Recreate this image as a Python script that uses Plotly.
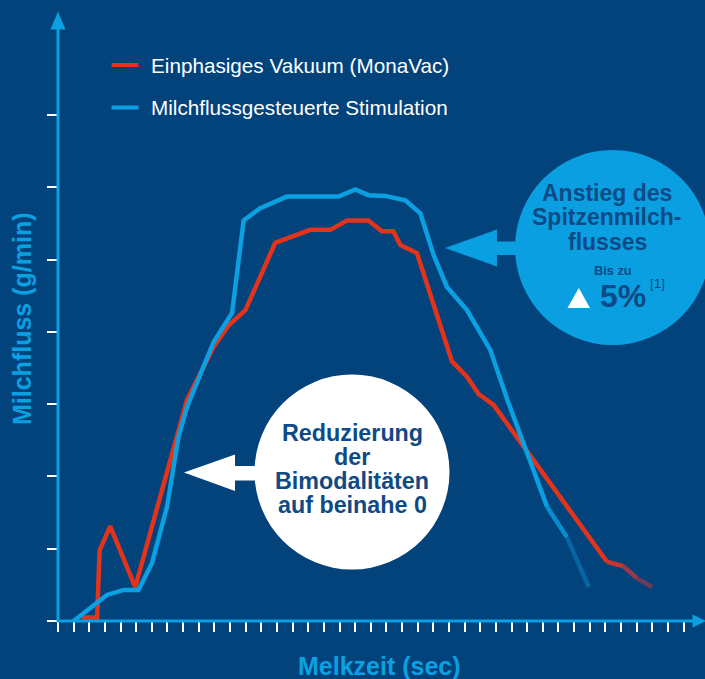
import plotly.graph_objects as go

# ---------------- data ----------------
red_name = "Einphasiges Vakuum (MonaVac)"
blue_name = "Milchflussgesteuerte Stimulation"

red_x = [1.5, 2.5, 2.66, 3.34, 4.94, 8.25, 9.95, 10.91, 11.98, 13.89, 16.13, 17.41,
         18.48, 19.84, 20.72, 21.44, 21.89, 22.95, 25.19, 26.15, 26.89, 27.85, 35.10,
         36.14, 37.02, 37.98]
red_y = [0.05, 0.05, 0.98, 1.31, 0.47, 3.06, 3.79, 4.09, 4.30, 5.23, 5.41, 5.41,
         5.54, 5.54, 5.39, 5.39, 5.20, 5.09, 3.59, 3.38, 3.14, 2.99, 0.82,
         0.76, 0.59, 0.47]

blue_x = [1.0, 3.13, 4.19, 5.15, 6.01, 6.97, 7.71, 8.25, 9.95, 11.13, 11.87, 12.93,
          14.64, 17.94, 19.01, 19.86, 20.93, 22.21, 23.17, 24.02, 24.87, 26.15, 27.64,
          28.73, 31.27, 32.54, 33.93]
blue_y = [0.0, 0.36, 0.43, 0.43, 0.80, 1.58, 2.55, 2.96, 3.86, 4.26, 5.54, 5.71,
          5.87, 5.87, 5.97, 5.89, 5.88, 5.82, 5.64, 5.06, 4.62, 4.30, 3.75,
          3.06, 1.58, 1.16, 0.47]

x_ticks = list(range(0, 41))
y_ticks = list(range(0, 8))

# ---------------- styling ----------------
W, H = 705, 679
L, R, T, B = 58, 0, 12, 58
PX_PER_X = 15.64
PX_PER_Y = 72.3
BG = "#03437b"
LBLUE = "#0aa0e2"
RED = "#e3331b"
NAVY = "#0d4a86"
FONT = "Liberation Sans, Arial, Helvetica, sans-serif"

pw, ph = W - L - R, H - T - B
x_max = pw / PX_PER_X
y_max = ph / PX_PER_Y


def px(xp):
    return (xp - L) / pw


def py(yp):
    return (H - B - yp) / ph


def path(points):
    s = "M " + " L ".join(f"{px(a):.5f},{py(b):.5f}" for a, b in points)
    return s + " Z"


fig = go.Figure()

# red series: main part + fading tail segments
red_fade = ["#c8352f", "#983a48", "#6c3b5a"]
n_main_r = len(red_x) - len(red_fade)
fig.add_trace(go.Scatter(x=red_x[:n_main_r], y=red_y[:n_main_r], mode="lines",
                         line=dict(color=RED, width=4.5), name=red_name,
                         showlegend=False, hoverinfo="skip"))
for i, c in enumerate(red_fade):
    k = n_main_r - 1 + i
    fig.add_trace(go.Scatter(x=red_x[k:k + 2], y=red_y[k:k + 2], mode="lines",
                             line=dict(color=c, width=4.5), showlegend=False,
                             hoverinfo="skip"))

# blue series: main part + fading tail segments
blue_fade = ["#0a8dd0", "#0865a3"]
n_main_b = len(blue_x) - len(blue_fade)
fig.add_trace(go.Scatter(x=blue_x[:n_main_b], y=blue_y[:n_main_b], mode="lines",
                         line=dict(color=LBLUE, width=4.5), name=blue_name,
                         showlegend=False, hoverinfo="skip"))
for i, c in enumerate(blue_fade):
    k = n_main_b - 1 + i
    fig.add_trace(go.Scatter(x=blue_x[k:k + 2], y=blue_y[k:k + 2], mode="lines",
                             line=dict(color=c, width=4.5), showlegend=False,
                             hoverinfo="skip"))

shapes = []
# axis lines
shapes.append(dict(type="line", xref="paper", yref="paper", x0=0, x1=0, y0=0, y1=py(28),
                   line=dict(color=LBLUE, width=3), layer="above"))
shapes.append(dict(type="line", xref="paper", yref="paper", x0=0, x1=px(694), y0=0, y1=0,
                   line=dict(color=LBLUE, width=3), layer="above"))
# arrowheads
shapes.append(dict(type="path", xref="paper", yref="paper",
                   path=path([(58, 11.5), (50.5, 29.5), (65.5, 29.5)]),
                   fillcolor=LBLUE, line=dict(width=0), layer="above"))
shapes.append(dict(type="path", xref="paper", yref="paper",
                   path=path([(706, 621), (692.5, 614.5), (692.5, 627.5)]),
                   fillcolor=LBLUE, line=dict(width=0), layer="above"))
# legend swatches
shapes.append(dict(type="line", xref="paper", yref="paper", x0=px(111.5), x1=px(138.5),
                   y0=py(65), y1=py(65), line=dict(color=RED, width=4)))
shapes.append(dict(type="line", xref="paper", yref="paper", x0=px(111.5), x1=px(138.5),
                   y0=py(107.5), y1=py(107.5), line=dict(color=LBLUE, width=4)))
# white callout
shapes.append(dict(type="circle", xref="paper", yref="paper",
                   x0=px(254.5), x1=px(449.5), y0=py(569.5), y1=py(374.5),
                   fillcolor="white", line=dict(width=0), layer="above"))
shapes.append(dict(type="path", xref="paper", yref="paper",
                   path=path([(184, 472.5), (235, 454.5), (235, 466), (265, 466),
                              (265, 480.5), (235, 480.5), (235, 491)]),
                   fillcolor="white", line=dict(width=0), layer="above"))
# blue callout
shapes.append(dict(type="circle", xref="paper", yref="paper",
                   x0=px(515), x1=px(710), y0=py(345), y1=py(150),
                   fillcolor="#0a9fe0", line=dict(width=0), layer="above"))
shapes.append(dict(type="path", xref="paper", yref="paper",
                   path=path([(445, 248), (497, 229.5), (497, 241.5), (525, 241.5),
                              (525, 255), (497, 255), (497, 266.5)]),
                   fillcolor="#0a9fe0", line=dict(width=0), layer="above"))
shapes.append(dict(type="path", xref="paper", yref="paper",
                   path=path([(567.5, 308), (590, 308), (578.8, 288)]),
                   fillcolor="white", line=dict(width=0), layer="above"))

ann = []


def text(t, xp, yp, size, color, bold=False, xanchor="center", angle=0):
    ann.append(dict(text=f"<b>{t}</b>" if bold else t, xref="paper", yref="paper",
                    x=px(xp), y=py(yp), xanchor=xanchor, yanchor="middle",
                    showarrow=False, textangle=angle,
                    font=dict(family=FONT, size=size, color=color)))


text(red_name, 149, 65, 20.7, "white", xanchor="left")
text(blue_name, 149, 107.5, 20.7, "white", xanchor="left")
text("Milchfluss (g/min)", 22, 319, 25, LBLUE, bold=True, angle=-90)
text("Melkzeit (sec)", 379, 666, 25, LBLUE, bold=True)

for t, yy in zip(["Reduzierung", "der", "Bimodalitäten", "auf beinahe 0"],
                 [433, 457, 481, 505]):
    text(t, 352, yy, 23.3, NAVY, bold=True)

for t, yy in zip(["Anstieg des", "Spitzenmilch-", "flusses"], [193, 217.5, 241.5]):
    text(t, 607, yy, 23, NAVY, bold=True)
text("Bis zu", 612.5, 270, 12.8, NAVY, bold=True)
text("5%", 623, 296, 32, NAVY, bold=True)
text("[1]", 657, 283, 13.5, NAVY)

fig.update_layout(
    width=W, height=H,
    margin=dict(l=L, r=R, t=T, b=B, pad=0),
    paper_bgcolor=BG, plot_bgcolor=BG,
    showlegend=False,
    shapes=shapes, annotations=ann,
    xaxis=dict(range=[0, x_max], tickvals=x_ticks, ticks="outside", ticklen=10,
               tickwidth=2, tickcolor="white", showticklabels=False,
               showgrid=False, zeroline=False, showline=False, fixedrange=True),
    yaxis=dict(range=[0, y_max], tickvals=y_ticks, ticks="outside", ticklen=10,
               tickwidth=2, tickcolor="white", showticklabels=False,
               showgrid=False, zeroline=False, showline=False, fixedrange=True),
)

fig.write_html("out.html", config={"displayModeBar": False},
               post_script="document.body.style.margin='0';"
                           "document.body.style.background='" + BG + "';"
                           "document.body.style.overflow='hidden';")
